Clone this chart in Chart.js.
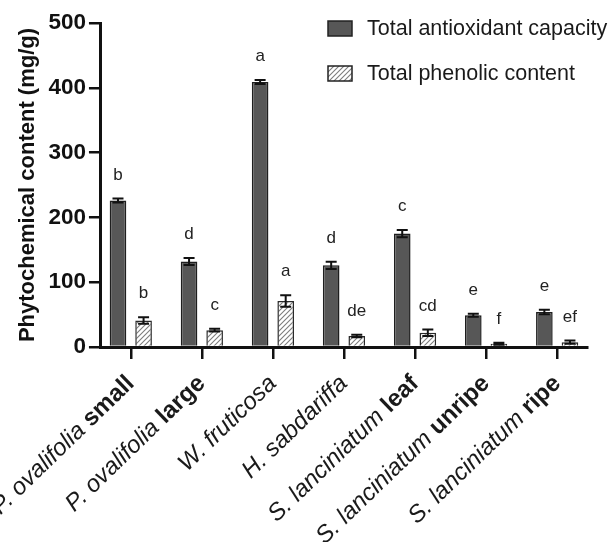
<!DOCTYPE html>
<html>
<head>
<meta charset="utf-8">
<script src="https://cdn.jsdelivr.net/npm/chart.js@4"></script>
<style>
  html, body { margin: 0; padding: 0; background: #fff; }
  #wrap { width: 609px; height: 542px; position: relative; }
</style>
</head>
<body>
<div id="wrap"><canvas id="chart"></canvas></div>
<script>
const species = ['P. ovalifolia', 'P. ovalifolia', 'W. fruticosa', 'H. sabdariffa', 'S. lanciniatum', 'S. lanciniatum', 'S. lanciniatum'];
const parts = ['small', 'large', '', '', 'leaf', 'unripe', 'ripe'];
const categories = species.map((s, i) => parts[i] ? s + ' ' + parts[i] : s);

const seriesNames = ['Total antioxidant capacity', 'Total phenolic content'];
const antioxidant = [226, 132, 409, 126, 175, 49, 54];
const antioxidantErr = [3, 5.5, 3, 5.5, 5.5, 2.5, 3.5];
const antioxidantLetters = ['b', 'd', 'a', 'd', 'c', 'e', 'e'];
const phenolic = [41, 26, 71, 17, 22, 5, 7.5];
const phenolicErr = [5, 2, 9, 1.8, 5, 1.4, 2.5];
const phenolicLetters = ['b', 'c', 'a', 'de', 'cd', 'f', 'ef'];

const FONT = '"Liberation Sans", Arial, Helvetica, sans-serif';
const DARK = '#575757';
const INK = '#111';

function makeHatch() {
  const c = document.createElement('canvas');
  c.width = 5; c.height = 5;
  const g = c.getContext('2d');
  g.fillStyle = '#fff';
  g.fillRect(0, 0, 5, 5);
  g.strokeStyle = '#7c7c7c';
  g.lineWidth = 1.1;
  g.beginPath();
  g.moveTo(-1, 6); g.lineTo(6, -1);
  g.moveTo(-3.5, 3.5); g.lineTo(3.5, -3.5);
  g.moveTo(1.5, 8.5); g.lineTo(8.5, 1.5);
  g.stroke();
  return g.createPattern(c, 'repeat');
}
const hatch = makeHatch();

const extras = {
  id: 'extras',
  afterDatasetsDraw(chart) {
    const ctx = chart.ctx;
    const y = chart.scales.y;
    const sets = [
      [antioxidant, antioxidantErr, antioxidantLetters],
      [phenolic, phenolicErr, phenolicLetters]
    ];
    sets.forEach(([vals, errs, letters], d) => {
      chart.getDatasetMeta(d).data.forEach((bar, i) => {
        const top = y.getPixelForValue(vals[i] + errs[i]);
        const bot = y.getPixelForValue(vals[i] - errs[i]);
        const half = 5.5;
        ctx.save();
        ctx.strokeStyle = INK;
        ctx.lineWidth = 2;
        ctx.beginPath();
        ctx.moveTo(bar.x, top); ctx.lineTo(bar.x, bot);
        ctx.moveTo(bar.x - half, top); ctx.lineTo(bar.x + half, top);
        ctx.moveTo(bar.x - half, bot); ctx.lineTo(bar.x + half, bot);
        ctx.stroke();
        ctx.fillStyle = '#222';
        ctx.font = '17px ' + FONT;
        ctx.textAlign = 'center';
        ctx.textBaseline = 'alphabetic';
        ctx.fillText(letters[i], bar.x, top - 19);
        ctx.restore();
      });
    });
  },
  afterDraw(chart) {
    const ctx = chart.ctx;
    const x = chart.scales.x;
    const axisY = chart.chartArea.bottom;

    // rotated category labels: italic species + bold part
    const italic = 'italic 24px ' + FONT;
    const bold = 'bold 24px ' + FONT;
    categories.forEach((c, i) => {
      const px = x.getPixelForValue(i);
      ctx.save();
      ctx.translate(px, axisY + 33);
      ctx.rotate(-44 * Math.PI / 180);
      ctx.fillStyle = '#1a1a1a';
      ctx.textAlign = 'right';
      ctx.textBaseline = 'middle';
      let end = 0;
      if (parts[i]) {
        ctx.font = bold;
        ctx.fillText(parts[i], 0, 0);
        end = -ctx.measureText(parts[i]).width - ctx.measureText(' ').width;
      }
      ctx.font = italic;
      ctx.fillText(species[i], end, 0);
      ctx.restore();
    });

    // legend
    const rows = [
      { y: 21, fill: DARK },
      { y: 66, fill: hatch }
    ];
    rows.forEach((r, i) => {
      ctx.save();
      ctx.fillStyle = r.fill;
      ctx.fillRect(328, r.y, 24, 15);
      ctx.strokeStyle = '#222';
      ctx.lineWidth = 1.5;
      ctx.strokeRect(328, r.y, 24, 15);
      ctx.fillStyle = '#1a1a1a';
      ctx.font = '21.5px ' + FONT;
      ctx.textAlign = 'left';
      ctx.textBaseline = 'middle';
      ctx.fillText(seriesNames[i], 367, r.y + 8);
      ctx.restore();
    });
  }
};

new Chart(document.getElementById('chart'), {
  type: 'bar',
  data: {
    datasets: [
      {
        label: seriesNames[0],
        data: antioxidant.map((v, i) => ({ x: i, y: v })),
        backgroundColor: DARK,
        borderColor: '#1e1e1e',
        borderWidth: 1.5,
        barPercentage: 0.65,
        categoryPercentage: 0.72
      },
      {
        label: seriesNames[1],
        data: phenolic.map((v, i) => ({ x: i, y: v })),
        backgroundColor: hatch,
        borderColor: '#2a2a2a',
        borderWidth: 1.5,
        barPercentage: 0.65,
        categoryPercentage: 0.72
      }
    ]
  },
  options: {
    responsive: true,
    maintainAspectRatio: false,
    animation: false,
    layout: { padding: { left: 15, right: 22, top: 23, bottom: 183 } },
    plugins: { legend: { display: false }, tooltip: { enabled: false } },
    scales: {
      x: {
        type: 'linear',
        min: -0.42,
        max: 6.42,
        offset: false,
        afterBuildTicks: (scale) => { scale.ticks = categories.map((_, i) => ({ value: i })); },
        ticks: { display: false },
        grid: { display: true, offset: false, drawOnChartArea: false, drawTicks: true, tickLength: 12, color: INK, lineWidth: 2.5 },
        border: { display: true, color: INK, width: 3 }
      },
      y: {
        min: 0,
        max: 500,
        ticks: { stepSize: 100, color: INK, padding: 3, font: { family: FONT, size: 22.5, weight: 'bold' } },
        grid: { display: true, drawOnChartArea: false, drawTicks: true, tickLength: 12, color: INK, lineWidth: 2.5 },
        border: { display: true, color: INK, width: 3 },
        title: {
          display: true,
          text: 'Phytochemical content (mg/g)',
          color: INK,
          font: { family: FONT, size: 22, weight: 'bold' },
          padding: { top: 0, bottom: 4 }
        }
      }
    }
  },
  plugins: [extras]
});
</script>
</body>
</html>
